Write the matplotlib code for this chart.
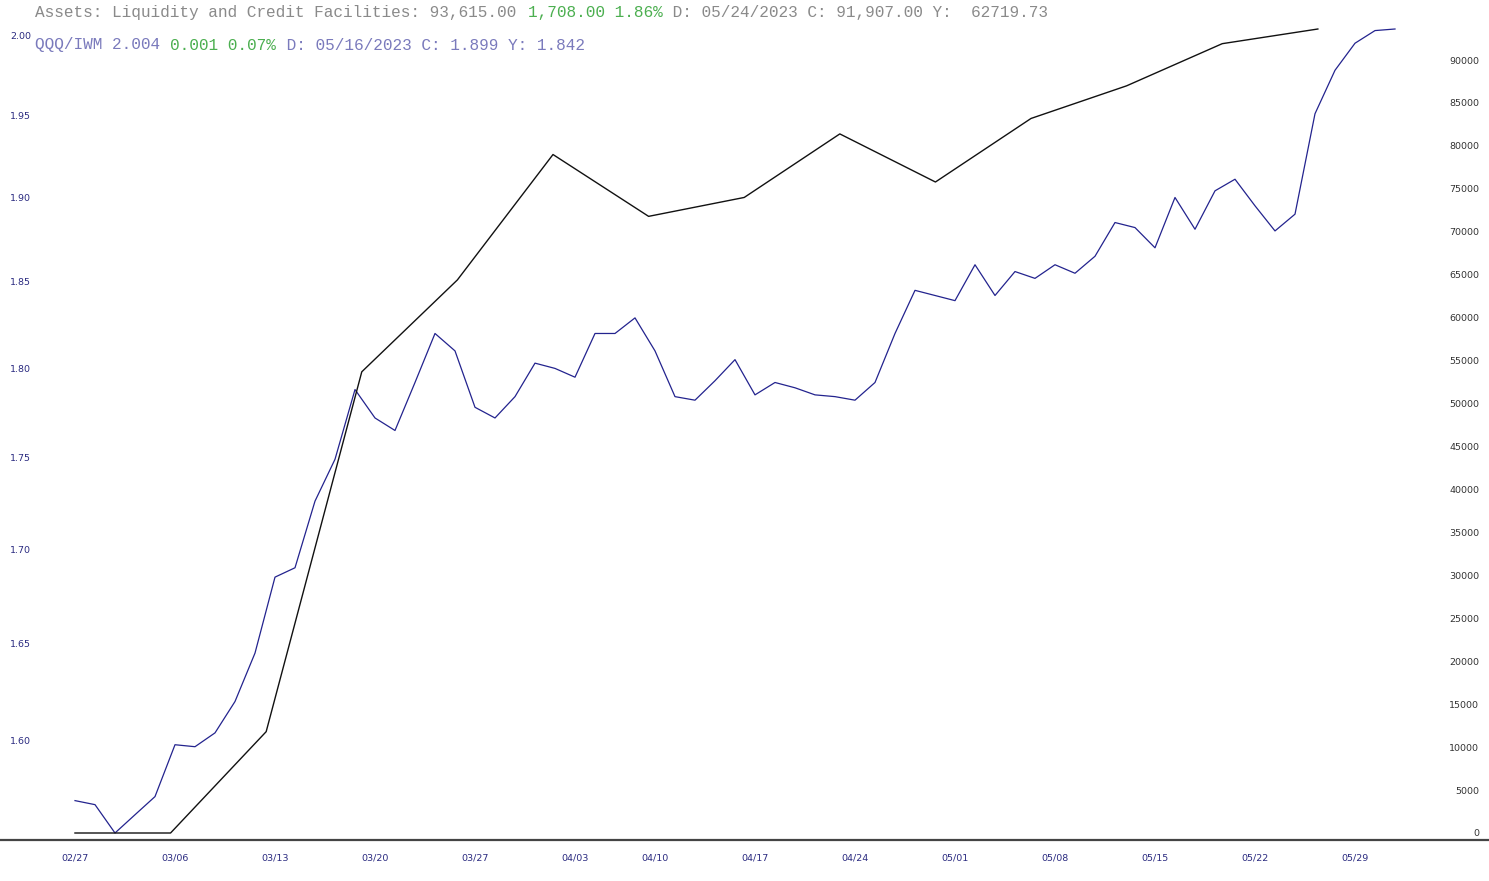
import numpy as np
import pandas as pd
import matplotlib
matplotlib.use("Agg")
import matplotlib.pyplot as plt
from matplotlib.ticker import FixedLocator, NullLocator, FormatStrFormatter

# trading days shown on the x axis (weekends + Good Friday + Memorial Day skipped)
holidays = ["2023-04-07", "2023-05-29"]
days = pd.bdate_range("2023-02-27", "2023-06-01")
days = days[~days.isin(pd.to_datetime(holidays))]

# QQQ/IWM ratio, one value per trading day
qqq_iwm = [1.570, 1.568, 1.554, 1.563, 1.572, 1.598, 1.597, 1.604, 1.620, 1.645,
           1.685, 1.690, 1.726, 1.749, 1.788, 1.772, 1.765, 1.792, 1.820, 1.810,
           1.778, 1.772, 1.784, 1.803, 1.800, 1.795, 1.820, 1.820, 1.829, 1.810,
           1.784, 1.782, 1.793, 1.805, 1.785, 1.792, 1.789, 1.785, 1.784, 1.782,
           1.792, 1.820, 1.845, 1.842, 1.839, 1.860, 1.842, 1.856, 1.852, 1.860,
           1.855, 1.865, 1.885, 1.882, 1.870, 1.900, 1.881, 1.904, 1.911, 1.895,
           1.880, 1.890, 1.951, 1.978, 1.995, 2.003, 2.004]

# Assets: Liquidity and Credit Facilities, weekly (millions)
liq_weeks = ["02/22", "03/01", "03/08", "03/15", "03/22", "03/29", "04/05",
             "04/12", "04/19", "04/26", "05/03", "05/10", "05/17", "05/24"]
liq_values = [0, 0, 11800, 53700, 64400, 79000, 71800, 74000, 81400, 75800,
              83200, 87000, 91907, 93615]

week_labels = ["02/27", "03/06", "03/13", "03/20", "03/27", "04/03", "04/10",
               "04/17", "04/24", "05/01", "05/08", "05/15", "05/22", "05/29"]
left_ticks = [1.60, 1.65, 1.70, 1.75, 1.80, 1.85, 1.90, 1.95, 2.00]
right_ticks = list(range(0, 95000, 5000))

W, H = 1489, 881
fig = plt.figure(figsize=(W / 100, H / 100), dpi=100)
rect = [0, (H - 840) / H, 1, (840 - 22) / H]
ax = fig.add_axes(rect)
ax2 = fig.add_axes(rect, label="liq", facecolor="none")

pad_frac = 7 / 804

# blue ratio line (log scale, left)
x = np.arange(len(days))
ax.plot(x, qqq_iwm, color="#23238e", lw=0.9)
ax.set_yscale("log")
lo, hi = np.log(min(qqq_iwm)), np.log(max(qqq_iwm))
ax.set_ylim(np.exp(lo - (hi - lo) * pad_frac), np.exp(hi + (hi - lo) * pad_frac))
ax.set_xlim(-3.75, 70.7)
ax.yaxis.set_major_locator(FixedLocator(left_ticks))
ax.yaxis.set_minor_locator(NullLocator())
ax.yaxis.set_major_formatter(FormatStrFormatter("%.2f"))
ax.tick_params(axis="y", length=0, pad=-7.2, labelsize=6.8, labelcolor="#2a2a80")

# x ticks: first trading day of each week
tick_pos = [int(np.searchsorted(days, pd.Timestamp("2023-" + lab.replace("/", "-"))))
            for lab in week_labels]
ax.set_xticks(tick_pos)
ax.set_xticklabels(week_labels)
ax.xaxis.set_minor_locator(NullLocator())
ax.tick_params(axis="x", length=0, pad=10, labelsize=6.8, labelcolor="#2a2a80")

for s in ["top", "left", "right"]:
    ax.spines[s].set_visible(False)
ax.spines["bottom"].set_color("#444444")
ax.spines["bottom"].set_linewidth(1.6)

# black weekly line (linear, right)
k = np.arange(len(liq_values))
ax2.plot(k, liq_values, color="#111111", lw=1.0)
ax2.set_xlim(-0.784, 14.79)
span = max(liq_values) - min(liq_values)
ax2.set_ylim(min(liq_values) - span * pad_frac, max(liq_values) + span * pad_frac)
ax2.xaxis.set_visible(False)
ax2.yaxis.tick_right()
ax2.yaxis.set_major_locator(FixedLocator(right_ticks))
ax2.yaxis.set_minor_locator(NullLocator())
ax2.tick_params(axis="y", length=0, pad=-7.2, labelsize=6.8, labelcolor="#333333")
for s in ax2.spines.values():
    s.set_visible(False)

fig.canvas.draw()
plt.setp(ax.get_yticklabels(), ha="left")
plt.setp(ax2.get_yticklabels(), ha="right")

# header lines, monospace, coloured pieces
fs = 11.6
cw = 0.6 * fs * 100 / 72
gray, green, slate = "#8a8a8a", "#4caf50", "#7a7abc"
lines = [
    (12, [("Assets: Liquidity and Credit Facilities: 93,615.00 ", gray),
          ("1,708.00 1.86%", green),
          (" D: 05/24/2023 C: 91,907.00 Y:  62719.73", gray)]),
    (45, [("QQQ/IWM 2.004 ", slate),
          ("0.001 0.07%", green),
          (" D: 05/16/2023 C: 1.899 Y: 1.842", slate)]),
]
for ypix, parts in lines:
    n = 0
    for txt, col in parts:
        fig.text((35 + n * cw) / W, 1 - ypix / H, txt, color=col, fontsize=fs,
                 family="Liberation Mono", va="center", ha="left")
        n += len(txt)

fig.savefig("out.png", dpi=100)
